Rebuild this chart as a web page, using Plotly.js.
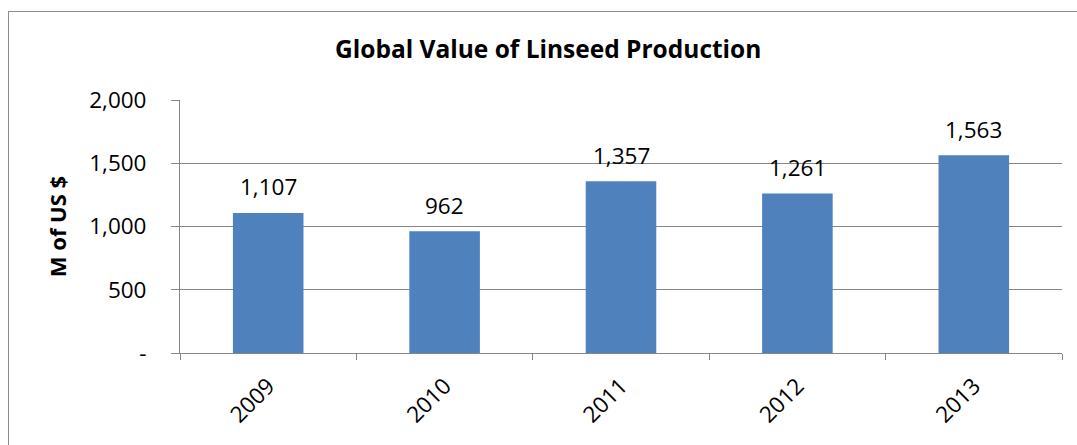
<!DOCTYPE html>
<html>
<head>
<meta charset="utf-8">
<script src="https://cdn.plot.ly/plotly-3.0.1.min.js"></script>
<style>
html,body{margin:0;padding:0;background:#fff;overflow:hidden;}
#frame{position:absolute;left:8px;top:11px;width:1200px;height:600px;border:1px solid #8c8c8c;box-sizing:border-box;}
#chart{position:absolute;left:0;top:0;width:1077px;height:445px;}
</style>
</head>
<body>
<div id="frame"></div>
<div id="chart"></div>
<script>
const years = ["2009", "2010", "2011", "2012", "2013"];
const values = [1107, 962, 1357, 1261, 1563];
const yTickVals = [0, 500, 1000, 1500, 2000];
const yTickText = ["-", "500", "1,000", "1,500", "2,000"];

const FONT = "'Open Sans', sans-serif";
const NUMSIZE = 22.5;

const trace = {
  type: "bar",
  x: years,
  y: values,
  marker: {color: "#4F81BD"},
  width: 0.4,
  hoverinfo: "x+y"
};

// value labels above the bars (x given as category index of each year)
const labelAnnotations = years.map((yr, i) => ({
  x: i,
  y: values[i],
  xref: "x",
  yref: "y",
  text: values[i].toLocaleString("en-US"),
  showarrow: false,
  yanchor: "middle",
  yshift: 26,
  font: {family: FONT, size: NUMSIZE, color: "#000"}
}));

const layout = {
  width: 1077,
  height: 445,
  margin: {l: 180, r: 15, t: 100, b: 92},
  paper_bgcolor: "rgba(0,0,0,0)",
  plot_bgcolor: "rgba(0,0,0,0)",
  font: {family: FONT, size: NUMSIZE, color: "#000"},
  showlegend: false,
  title: {
    text: "<b>Global Value of Linseed Production</b>",
    font: {family: FONT, size: 24.5, color: "#000"},
    x: 0.509, xref: "container", xanchor: "center",
    y: 0.888, yanchor: "middle"
  },
  xaxis: {
    type: "category",
    categoryorder: "array",
    categoryarray: years,
    range: [-0.5, years.length - 0.5],
    tickson: "boundaries",
    ticks: "outside",
    ticklen: 6,
    tickcolor: "#868686",
    showline: true,
    linecolor: "#868686",
    linewidth: 1,
    showgrid: false,
    tickangle: -45,
    ticklabelstandoff: 10,
    tickfont: {family: FONT, size: NUMSIZE, color: "#000"}
  },
  yaxis: {
    range: [0, 2000],
    tickvals: yTickVals,
    ticktext: yTickText,
    ticks: "outside",
    ticklen: 8,
    tickcolor: "#868686",
    showline: true,
    linecolor: "#868686",
    linewidth: 1,
    showgrid: true,
    gridcolor: "#868686",
    gridwidth: 1,
    zeroline: false,
    ticklabelstandoff: 20,
    tickfont: {family: FONT, size: NUMSIZE, color: "#000"},
    title: {
      text: "<b>M of US $</b>",
      font: {family: FONT, size: 22, color: "#000"},
      standoff: 16
    }
  },
  annotations: labelAnnotations,
  bargap: 0.6
};

Plotly.newPlot("chart", [trace], layout, {displayModeBar: false, staticPlot: true});
</script>
</body>
</html>
